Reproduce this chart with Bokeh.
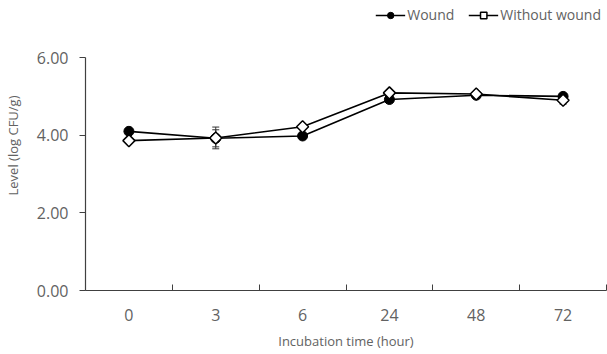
import math
from bokeh.plotting import figure
from bokeh.models import (FixedTicker, ColumnDataSource, Whisker, TeeHead, Legend, LegendItem, Range1d)
from bokeh.embed import file_html
from bokeh.resources import INLINE

categories = ["0", "3", "6", "24", "48", "72"]
wound = [4.10, 3.92, 3.98, 4.92, 5.03, 5.00]
wound_err = [0.05, 0.22, 0.05, 0.08, 0.05, 0.05]
without = [3.86, 3.93, 4.22, 5.09, 5.06, 4.90]
without_err = [0.05, 0.28, 0.05, 0.05, 0.05, 0.10]
y_ticks = [0, 2, 4, 6]

xs = list(range(len(categories)))
FONT = "Open Sans"
GRAY = "#626262"

p = figure(width=607, height=354, output_backend="svg", toolbar_location=None,
           x_range=Range1d(-0.5, 5.5), y_range=Range1d(0, 7.47),
           min_border_left=84, min_border_right=1, min_border_top=0, min_border_bottom=64)
p.outline_line_color = None
p.grid.grid_line_color = None

src_w = ColumnDataSource(dict(x=xs, y=wound, lo=[v - e for v, e in zip(wound, wound_err)],
                              hi=[v + e for v, e in zip(wound, wound_err)]))
src_o = ColumnDataSource(dict(x=xs, y=without, lo=[v - e for v, e in zip(without, without_err)],
                              hi=[v + e for v, e in zip(without, without_err)]))

for src in (src_w, src_o):
    wh = Whisker(source=src, base="x", lower="lo", upper="hi", line_color="#333333", line_width=1,
                 upper_head=TeeHead(size=7, line_color="#333333", line_width=1),
                 lower_head=TeeHead(size=7, line_color="#333333", line_width=1))
    p.add_layout(wh)

lw = p.line("x", "y", source=src_w, line_color="black", line_width=1.6)
sw = p.scatter("x", "y", source=src_w, marker="circle", size=10, fill_color="black", line_color="black")
lo = p.line("x", "y", source=src_o, line_color="black", line_width=1.6)
so = p.scatter("x", "y", source=src_o, marker="square", angle=math.pi / 4, size=8.5,
               fill_color="white", line_color="black", line_width=1.5)

# x axis
p.xaxis.ticker = FixedTicker(ticks=xs, minor_ticks=[i + 0.5 for i in range(-1, len(categories))])
p.xaxis.major_label_overrides = {i: c for i, c in enumerate(categories)}
p.xaxis.major_tick_in = 0
p.xaxis.major_tick_out = 0
p.xaxis.minor_tick_in = 6
p.xaxis.minor_tick_out = 0
p.xaxis.minor_tick_line_color = "#404040"
p.xaxis.axis_line_color = "#404040"
p.xaxis.axis_line_width = 1.2
p.xaxis.major_label_standoff = 18
p.xaxis.major_label_text_font = FONT
p.xaxis.major_label_text_font_size = "16px"
p.xaxis.major_label_text_color = GRAY
p.xaxis.axis_label = "Incubation time (hour)"
p.xaxis.axis_label_text_font = FONT
p.xaxis.axis_label_text_font_size = "13px"
p.xaxis.axis_label_text_font_style = "normal"
p.xaxis.axis_label_text_color = GRAY
p.xaxis.axis_label_standoff = 8

# y axis
p.yaxis.bounds = (0, 6)
p.yaxis.ticker = FixedTicker(ticks=y_ticks, minor_ticks=[])
p.yaxis.major_label_overrides = {t: f"{t:.2f}" for t in y_ticks}
p.yaxis.major_tick_in = 0
p.yaxis.major_tick_out = 6
p.yaxis.major_tick_line_color = "#404040"
p.yaxis.axis_line_color = "#404040"
p.yaxis.axis_line_width = 1.2
p.yaxis.major_label_standoff = 11
p.yaxis.major_label_text_font = FONT
p.yaxis.major_label_text_font_size = "16px"
p.yaxis.major_label_text_color = GRAY
p.yaxis.axis_label = "Level (log CFU/g)"
p.yaxis.axis_label_text_font = FONT
p.yaxis.axis_label_text_font_size = "13px"
p.yaxis.axis_label_text_font_style = "normal"
p.yaxis.axis_label_text_color = GRAY
p.yaxis.axis_label_standoff = 12

legend = Legend(items=[LegendItem(label="Wound", renderers=[lw, sw]),
                       LegendItem(label="Without wound", renderers=[lo, so])],
                orientation="horizontal", location="top_right",
                label_text_font=FONT, label_text_font_size="14px", label_text_color=GRAY,
                glyph_width=30, glyph_height=16, spacing=14, padding=2, margin=5,
                label_standoff=2, border_line_color=None, background_fill_alpha=0)
p.add_layout(legend, "center")

open("out.html", "w").write(file_html(p, INLINE))
